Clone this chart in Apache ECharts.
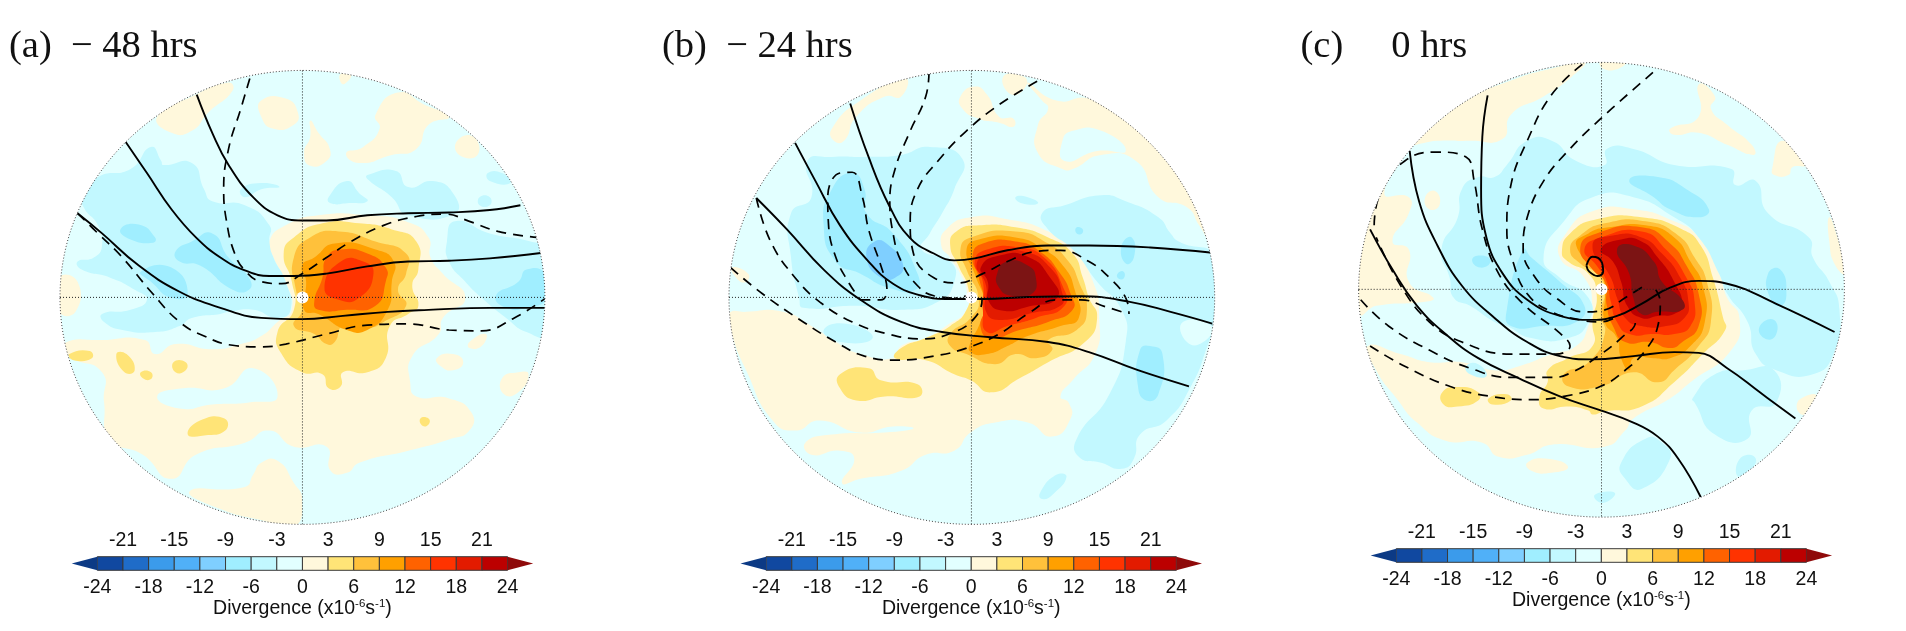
<!DOCTYPE html>
<html><head><meta charset="utf-8">
<style>html,body{margin:0;padding:0;background:#fff}#c{width:1906px;height:631px}</style>
<script src="https://cdn.jsdelivr.net/npm/echarts@6/dist/echarts.min.js"></script>
</head><body><div id="c"></div>
<script>
// colour scale
const levelEdges=[-24,-21,-18,-15,-12,-9,-6,-3,0,3,6,9,12,15,18,21,24];
const levelColors=['#1048A0','#1F6CC8','#3B9BEB','#50B0F8','#7FCFFF','#A0EEFF','#C2F8FF','#E2FFFF','#FFF8DC','#FFE477','#FFC13B','#FFA000','#FF6200','#FF3300','#E31B00','#BC0000'];
const underColor='#0C3A85', overColor='#8F0A0A', coreColor='#7C1414';
const lowerTicks=[-24,-18,-12,-6,0,6,12,18,24];
const upperTicks=[-21,-15,-9,-3,3,9,15,21];

// ---------- panel (a) regions: [level, outline]
const aCream1=[[160,852],[250,845],[355,845],[380,880],[430,855],[520,868],[590,855],[640,835],[680,800],[715,770],[700,700],[670,640],[660,600],[700,560],[780,535],[900,535],[1000,552],[1050,590],[1055,640],[1085,680],[1140,740],[1085,790],[1075,830],[1010,885],[1005,950],[1020,985],[1100,990],[1155,1025],[1150,1070],[1100,1092],[1000,1120],[880,1150],[850,1175],[810,1170],[800,1110],[720,1110],[660,1070],[600,1100],[480,1130],[420,1190],[350,1130],[270,1090],[255,1000],[250,925],[170,885]];
const aHole=[[385,985],[450,965],[550,965],[620,915],[680,985],[610,1000],[520,1005],[440,1015]];
const aCream2=[[385,290],[470,240],[560,205],[570,225],[510,280],[470,325],[420,330]];
const aCream3=[[640,250],[700,245],[730,280],[720,310],[670,320],[640,290]];
const aCream4=[[760,300],[780,330],[808,370],[800,400],[760,412],[745,380],[760,340]];
const aCream5=[[920,285],[975,230],[1040,260],[1100,290],[1050,310],[1020,370],[960,385],[880,405],[848,380],[890,365],[930,320]];
const aCream6=[[1120,350],[1160,340],[1170,385],[1125,385]];
const aCream7=[[835,183],[860,185],[845,208],[835,205]];
const aCream8=[[145,690],[190,700],[185,775],[145,775]];
const aCream9=[[465,1220],[600,1210],[620,1180],[640,1150],[680,1145],[720,1200],[740,1240],[720,1310],[650,1295],[540,1265]];
const aCream10=[[1230,940],[1270,925],[1295,930],[1270,975],[1235,980]];
const aCream11=[[1070,890],[1110,880],[1135,900],[1110,920],[1080,910]];
const aCream12=[[1150,850],[1190,830],[1180,860],[1150,865]];
const aBlue1=[[205,490],[240,440],[320,420],[370,365],[395,400],[400,410],[470,405],[500,470],[520,500],[600,510],[660,560],[660,600],[670,640],[700,700],[712,770],[680,790],[620,770],[560,775],[540,780],[470,790],[440,810],[380,825],[300,820],[255,800],[250,780],[320,770],[360,745],[330,720],[270,690],[200,670],[190,650],[230,640],[250,610],[240,560],[205,515]];
const aBlue2=[[1095,600],[1115,550],[1200,580],[1300,600],[1340,620],[1340,830],[1290,825],[1240,790],[1180,740],[1140,700],[1100,650]];
const aBlue3=[[805,490],[850,450],[880,480],[900,500],[850,505],[810,505]];
const aBlue4=[[900,435],[970,425],[1000,465],[1060,450],[1110,480],[1115,530],[1000,535],[960,490],[900,445]];
const aBlue5=[[1195,430],[1230,430],[1250,455],[1200,450]];
const aBlue6=[[1175,490],[1200,490],[1200,510],[1175,510]];
const aBlue7=[[590,470],[640,455],[685,465],[640,470],[600,490]];
const aSky1=[[295,570],[340,558],[380,590],[375,603],[320,595]];
const aSky2=[[430,625],[470,600],[520,580],[560,640],[610,690],[610,720],[570,720],[490,660],[440,650]];
const aSky3=[[345,675],[420,665],[460,730],[420,740],[370,700]];
const aSky4=[[1215,735],[1270,700],[1290,670],[1335,680],[1340,740],[1290,765],[1240,765]];
const aYel1=[[695,630],[720,590],[790,555],[880,555],[960,570],[1020,600],[1025,670],[1010,710],[1025,760],[1000,780],[955,810],[945,890],[900,925],[840,925],[835,960],[805,965],[790,930],[740,925],[690,880],[680,825],[720,770],[715,700]];
const aYel2=[[460,1080],[490,1045],[550,1040],[552,1070],[500,1082]];
const aYel3=[[170,880],[220,872],[225,890],[180,895]];
const aYel4=[[285,880],[310,880],[330,920],[305,925]];
const aYel5=[[425,900],[455,900],[455,920],[430,925]];
const aYel6=[[345,925],[370,925],[370,942],[350,940]];
const aYel7=[[1030,1040],[1050,1040],[1050,1055],[1035,1058]];
const aAmb=[[720,640],[760,590],[830,575],[920,600],[995,630],[995,680],[975,720],[995,760],[940,800],[900,815],[840,810],[820,850],[800,855],[770,830],[720,810],[740,770],[725,720]];
const aOra=[[770,640],[820,605],[920,620],[965,650],[960,700],[950,770],[900,820],[850,820],[780,780],[745,770],[750,700],[740,660]];
const aDeep=[[800,640],[835,620],[900,630],[945,665],[945,700],[920,760],[850,770],[780,770],[770,750],[790,690]];
const aRed=[[795,715],[835,650],[890,650],[915,680],[880,740],[830,745]];
const panelARegions=[[8,aCream1],[7,aHole],[8,aCream2],[8,aCream3],[8,aCream4],[8,aCream5],[8,aCream6],[8,aCream7],[8,aCream8],[8,aCream9],[8,aCream10],[8,aCream11],[8,aCream12],
[6,aBlue1],[6,aBlue2],[6,aBlue3],[6,aBlue4],[6,aBlue5],[6,aBlue6],[6,aBlue7],[5,aSky1],[5,aSky2],[5,aSky3],[5,aSky4],
[9,aYel1],[9,aYel2],[9,aYel3],[9,aYel4],[9,aYel5],[9,aYel6],[9,aYel7],[10,aAmb],[11,aOra],[12,aDeep],[13,aRed]];
const aSolid1=[[482,235],[520,330],[560,410],[620,490],[680,535],[740,548],[800,548],[900,535],[1000,530],[1100,528],[1200,522],[1275,510]];
const aSolid2=[[308,353],[360,430],[420,520],[480,590],[540,640],[600,672],[660,686],[720,686],[800,680],[900,662],[1000,650],[1100,648],[1200,642],[1330,628]];
const aSolid3=[[190,530],[250,580],[340,660],[440,725],[540,765],[640,790],[740,793],[840,785],[950,775],[1050,770],[1200,765],[1335,765]];
const aDash1=[[612,195],[590,270],[560,370],[548,470],[555,550],[575,630],[600,672],[640,700],[690,705],[740,680],[800,640],[860,600],[940,560],[1020,538],[1090,532],[1150,550],[1220,575],[1315,590]];
const aDash2=[[190,530],[240,580],[300,640],[370,725],[440,800],[500,835],[570,858],[640,862],[700,855],[800,830],[900,808],[1000,805],[1100,820],[1180,822],[1260,790],[1335,742]];

// ---------- panel (b)
const bCream1=[[218,780],[260,775],[350,775],[420,810],[480,850],[540,880],[620,890],[640,860],[700,840],[750,810],[800,770],[800,720],[790,690],[760,640],[738,610],[750,570],[810,540],[900,545],[1000,575],[1060,620],[1110,700],[1125,790],[1115,880],[1060,945],[1030,985],[1050,1000],[1055,1040],[1010,1085],[950,1050],[870,1050],[810,1075],[770,1120],[700,1130],[640,1170],[540,1190],[495,1200],[525,1140],[490,1120],[420,1130],[405,1100],[470,1080],[600,1075],[670,1065],[620,1060],[540,1075],[440,1045],[380,1070],[325,1045],[260,920],[225,830]];
const bCream2=[[470,320],[540,250],[650,195],[640,240],[600,240],[530,290],[500,350],[475,350]];
const bCream3=[[785,240],[820,215],[850,235],[880,290],[915,295],[915,315],[880,305],[830,295],[790,270]];
const bCream4=[[890,190],[940,190],[945,215],[910,235]];
const bCream5=[[950,205],[1020,250],[1100,245],[1180,290],[1290,400],[1360,500],[1395,600],[1370,560],[1340,515],[1270,490],[1215,400],[1130,385],[1060,420],[1035,420],[975,380],[975,310],[1000,270],[985,250]];
const bHole=[[1035,350],[1060,325],[1130,325],[1190,375],[1120,375],[1040,400]];
const bCream6=[[225,665],[265,680],[260,700],[240,695]];
const bBlue1=[[370,530],[420,490],[410,400],[470,390],[560,390],[640,385],[710,365],[790,395],[770,470],[740,530],[710,580],[690,620],[760,650],[770,700],[730,750],[640,770],[530,760],[400,765],[390,740],[370,640]];
const bBlue2=[[450,820],[510,805],[570,840],[490,850]];
const bBlue3=[[985,530],[1040,510],[1130,485],[1190,500],[1270,540],[1300,580],[1320,600],[1410,640],[1410,790],[1390,860],[1350,960],[1290,1045],[1225,1080],[1210,1140],[1180,1165],[1130,1150],[1075,1135],[1070,1090],[1150,980],[1190,850],[1180,770],[1120,700],[1060,620],[1000,570]];
const bHole2=[[1330,800],[1400,810],[1380,850],[1340,850]];
const bBlue4=[[980,1225],[1020,1180],[1045,1185],[1010,1230],[985,1240]];
const bBlue5=[[920,490],[950,490],[975,505],[935,505]];
const bSky1=[[450,560],[470,470],[520,430],[550,470],[555,530],[620,580],[680,680],[675,720],[610,715],[540,680],[480,650]];
const bSky2=[[1225,870],[1250,860],[1280,880],[1270,980],[1240,995],[1220,960]];
const bSky3=[[1180,610],[1205,590],[1210,640],[1190,655]];
const bSky4=[[1070,565],[1085,570],[1080,582],[1068,578]];
const bSky5=[[1170,680],[1185,675],[1185,692],[1172,692]];
const bAzure=[[555,640],[575,600],[610,610],[645,660],[625,690],[590,690]];
const bYel1=[[760,610],[775,575],[830,560],[920,565],[1000,590],[1060,630],[1085,690],[1100,740],[1120,790],[1090,850],[1000,900],[930,940],[860,975],[810,945],[770,930],[700,895],[625,890],[640,865],[700,840],[760,810],[800,770],[805,720],[780,660]];
const bYel2=[[490,930],[560,915],[590,945],[680,955],[685,985],[600,985],[530,995],[490,965]];
const bAmb=[[785,620],[810,590],[920,575],[1000,605],[1050,650],[1075,700],[1095,770],[1070,820],[1000,845],[1010,870],[970,890],[920,880],[870,905],[800,880],[760,860],[760,830],[810,790],[830,745],[800,670]];
const bOra=[[800,620],[830,595],[920,590],[990,620],[1040,665],[1065,720],[1075,790],[1030,810],[950,835],[900,860],[850,880],[810,875],[810,850],[830,810],[845,760],[820,680]];
const bDeep=[[815,635],[840,605],[920,600],[980,625],[1030,680],[1055,730],[1060,770],[1000,800],[930,820],[860,840],[835,815],[845,760],[830,690]];
const bRed=[[820,650],[850,620],[930,615],[990,640],[1035,710],[1040,760],[970,790],[900,810],[850,825],[840,770],[840,700]];
const bCrim=[[825,655],[865,630],[940,625],[1005,665],[1035,730],[1030,760],[960,778],[880,795],[848,775],[848,710]];
const bDark=[[835,665],[880,635],[950,638],[1005,690],[1022,740],[950,762],[890,772],[855,750],[852,700]];
const bCore=[[875,680],[900,650],[950,660],[970,690],[960,730],[910,735],[880,715]];
const panelBRegions=[[8,bCream1],[8,bCream2],[8,bCream3],[8,bCream4],[8,bCream5],[7,bHole],[8,bCream6],
[6,bBlue1],[6,bBlue2],[6,bBlue3],[7,bHole2],[6,bBlue4],[6,bBlue5],[5,bSky1],[5,bSky2],[5,bSky3],[5,bSky4],[5,bSky5],[4,bAzure],
[9,bYel1],[9,bYel2],[10,bAmb],[11,bOra],[12,bDeep],[13,bRed],[14,bCrim],[15,bDark],[17,bCore]];
const bSolid1=[[515,257],[560,390],[610,510],[660,590],[720,630],[770,647],[820,642],[900,622],[1000,610],[1100,610],[1250,615],[1402,628]];
const bSolid2=[[380,355],[430,450],[490,560],[560,650],[620,705],[690,735],[760,743],[840,743],[950,738],[1080,736],[1200,750],[1300,775],[1402,804]];
const bSolid3=[[285,492],[360,570],[450,670],[540,745],[640,800],[740,825],[860,838],[1000,850],[1100,875],[1220,920],[1345,960]];
const bDash1=[[708,180],[700,240],[660,330],[625,420],[612,500],[620,580],[640,650],[680,710],[720,735],[790,742]];
const bDash2=[[973,202],[880,260],[800,325],[730,400],[680,470],[662,550],[670,630],[720,690],[780,703],[840,680],[900,650],[970,625],[1030,622],[1100,650],[1150,690],[1190,740],[1198,780]];
const bDash3=[[540,745],[590,745],[605,720],[590,660],[560,570],[545,490],[520,428],[490,430],[460,490],[462,560],[480,640],[510,700],[540,745]];
const bDash4=[[285,492],[320,600],[380,690],[440,750],[520,800],[600,828],[690,842],[770,825],[820,790],[838,745],[810,735],[770,742]];
const bDash5=[[222,665],[300,730],[400,800],[480,850],[550,885],[630,895],[720,885],[800,865],[880,830],[950,780],[1020,745],[1080,745],[1140,762],[1195,780]];

// ---------- panel (c)
const cCream1=[[780,155],[700,170],[600,200],[500,245],[400,320],[355,358],[420,350],[500,350],[580,345],[600,285],[680,240],[750,190]];
const cCream2=[[355,358],[280,470],[240,560],[225,650],[230,780],[270,760],[390,750],[410,740],[350,700],[350,620],[310,600],[350,530],[350,490],[290,480]];
const cCream3=[[390,490],[415,475],[425,510],[400,520]];
const cCream4=[[250,860],[330,880],[400,900],[480,900],[560,920],[620,910],[700,880],[760,860],[790,810],[800,760],[780,690],[720,640],[735,580],[800,525],[900,520],[1000,550],[1060,590],[1110,680],[1130,740],[1160,790],[1140,870],[1040,950],[990,990],[900,1040],[880,1070],[830,1110],[700,1105],[640,1130],[570,1135],[530,1100],[440,1095],[370,1050],[320,990],[270,920]];
const cCream5=[[640,1150],[690,1140],[740,1160],[700,1175],[650,1170]];
const cCream6=[[990,320],[1060,290],[1060,210],[1100,240],[1090,270],[1130,310],[1190,360],[1195,385],[1130,360],[1060,330],[1000,335]];
const cCream7=[[1240,420],[1265,350],[1320,410],[1290,415],[1280,435],[1245,435]];
const cCream8=[[1380,540],[1400,590],[1420,680],[1395,660],[1380,600]];
const cCream9=[[1300,1010],[1320,985],[1350,985],[1320,1030]];
const cCream10=[[820,155],[880,155],[860,172],[825,170]];
const cBlue1=[[480,470],[520,440],[560,440],[590,410],[640,350],[700,350],[760,400],[830,410],[835,370],[900,370],[1000,410],[1140,420],[1150,460],[1200,450],[1230,530],[1330,590],[1340,640],[1380,700],[1405,770],[1390,880],[1340,930],[1250,920],[1200,880],[1180,800],[1130,730],[1110,680],[1060,590],[1000,540],[900,490],[800,490],[730,550],[680,640],[720,690],[790,740],[790,800],[740,840],[650,840],[590,810],[560,800],[500,760],[460,740],[450,690],[430,620],[470,540]];
const cBlue2=[[1045,990],[1100,930],[1170,920],[1245,920],[1250,1000],[1190,1020],[1180,1090],[1100,1080],[1050,1000]];
const cBlue3=[[870,1150],[930,1090],[970,1100],[990,1140],[920,1215],[880,1190]];
const cBlue4=[[1155,1150],[1185,1130],[1200,1150],[1160,1185]];
const cBlue5=[[805,1230],[855,1225],[825,1250]];
const cBlue6=[[490,910],[520,905],[540,935],[500,930]];
const cSky1=[[890,448],[960,440],[1030,470],[1085,520],[1060,540],[990,520],[950,490]];
const cSky2=[[590,770],[630,620],[650,640],[720,700],[780,760],[760,800],[680,810],[600,810]];
const cSky3=[[505,645],[530,635],[550,650],[525,665]];
const cSky4=[[1230,680],[1260,670],[1275,730],[1260,760],[1235,740]];
const cSky5=[[1210,810],[1245,795],[1248,835],[1220,840]];
const cYel1=[[725,625],[745,580],[810,545],[920,540],[1020,570],[1065,610],[1095,690],[1120,790],[1125,820],[1070,880],[1000,950],[920,1010],[830,1022],[800,1030],[790,1020],[740,1010],[680,1015],[670,985],[690,950],[690,920],[740,890],[800,860],[800,800],[810,730],[790,680],[740,650]];
const cYel2=[[432,975],[470,962],[520,975],[520,995],[470,1010],[435,1005]];
const cYel3=[[545,990],[590,980],[600,995],[555,1005]];
const cAmb=[[745,620],[770,585],[830,555],[930,550],[1010,585],[1050,640],[1080,700],[1090,800],[1060,860],[1000,920],[960,950],[900,925],[820,960],[740,960],[730,930],[790,900],[830,830],[820,780],[830,720],[810,680],[770,655]];
const cOra=[[760,610],[790,580],[840,565],[930,560],[1000,590],[1040,650],[1070,710],[1075,800],[1040,860],[990,890],[950,890],[900,890],[890,920],[870,890],[860,840],[830,800],[830,730],[820,680]];
const cDeep=[[770,615],[810,580],[920,565],[990,605],[1030,660],[1060,730],[1060,810],[1020,850],[990,865],[940,850],[880,850],[850,810],[835,760],[830,700],[800,670]];
const cRed=[[780,620],[820,590],[920,575],[980,620],[1030,690],[1050,750],[1040,810],[1000,830],[950,830],[890,830],[860,800],[845,750],[835,700],[810,660]];
const cCrim=[[800,610],[850,585],[920,590],[970,630],[1015,690],[1035,750],[1025,790],[980,810],[920,810],[880,790],[860,740],[845,690]];
const cDark=[[820,620],[870,595],[920,600],[960,640],[1000,700],[1020,760],[1000,780],[960,785],[920,790],[885,760],[870,700],[850,650]];
const cCore=[[860,620],[900,610],[950,650],[970,700],[1020,745],[1020,770],[960,775],[920,780],[900,740],[890,680]];
const panelCRegions=[[8,cCream1],[8,cCream2],[8,cCream3],[8,cCream4],[8,cCream5],[8,cCream6],[8,cCream7],[8,cCream8],[8,cCream9],[8,cCream10],
[6,cBlue1],[6,cBlue2],[6,cBlue3],[6,cBlue4],[6,cBlue5],[6,cBlue6],[5,cSky1],[5,cSky2],[5,cSky3],[5,cSky4],[5,cSky5],
[9,cYel1],[9,cYel2],[9,cYel3],[10,cAmb],[11,cOra],[12,cDeep],[13,cRed],[14,cCrim],[15,cDark],[17,cCore]];
const cSolid1=[[543,237],[530,340],[527,470],[540,590],[580,680],[640,745],[720,785],[800,795],[860,785],[920,755],[990,715],[1060,698],[1130,705],[1250,755],[1393,825]];
const cSolid2=[[352,375],[375,500],[420,610],[480,710],[560,790],[640,850],[720,885],[800,893],[900,885],[1000,875],[1060,877],[1130,915],[1210,975],[1297,1040]];
const cSolid3=[[255,570],[310,670],[370,760],[440,830],[520,890],[620,940],[720,985],[820,1020],[900,1050],[960,1085],[1010,1140],[1065,1235]];
const cLoop=[[785,660],[800,638],[822,650],[826,675],[812,686],[792,675],[785,660]];
const cDash1=[[948,180],[820,295],[740,375],[680,450],[640,540],[630,620],[660,690],[710,740],[780,775],[830,770],[880,740],[930,708]];
const cDash2=[[775,160],[700,235],[640,350],[600,460],[590,570],[605,650],[640,730],[700,775],[770,795],[820,800],[867,782]];
const cDash3=[[265,560],[280,480],[340,400],[420,378],[490,390],[510,450],[530,570],[570,680],[630,755],[720,828],[745,860],[710,880],[600,880],[480,850],[400,800],[330,710],[270,590]];
const cDash4=[[232,745],[300,810],[400,870],[500,915],[600,938],[700,938],[750,925],[818,882],[870,840],[905,800],[905,785]];
const cDash5=[[255,860],[340,910],[450,960],[550,985],[650,993],[730,985],[820,960],[880,920],[930,870],[960,810],[966,750],[955,720]];

const panels=[
 {off:0,x0:147,x1:1335,y0:175,y1:1303,cx:741,cy:739,regions:panelARegions,solid:[aSolid1,aSolid2,aSolid3],dash:[aDash1,aDash2],title:'(a)\u00a0\u00a0\u2212 48 hrs',tx:9,barLeft:71.7,barTop:556.7},
 {off:640,x0:218,x1:1408,y0:175,y1:1303,cx:812,cy:739,regions:panelBRegions,solid:[bSolid1,bSolid2,bSolid3],dash:[bDash1,bDash2,bDash3,bDash4,bDash5],title:'(b)\u00a0\u00a0\u2212 24 hrs',tx:662,barLeft:740.5,barTop:556.7},
 {off:1266,x0:227,x1:1417,y0:155,y1:1285,cx:822,cy:719,regions:panelCRegions,solid:[cSolid1,cSolid2,cSolid3,cLoop],dash:[cDash1,cDash2,cDash3,cDash4,cDash5],title:'(c)\u00a0\u00a0\u00a0\u00a0\u00a00 hrs',tx:1300.5,barLeft:1370.6,barTop:548.7}
];
const SX=2.45, SY=2.485, FONT='"Liberation Sans",Arial,sans-serif';
const grid=[],xAxis=[],yAxis=[],series=[],title=[];
panels.forEach((p,i)=>{
  grid.push({left:p.off+p.x0/SX,top:p.y0/SY,width:(p.x1-p.x0)/SX,height:(p.y1-p.y0)/SY,containLabel:false});
  xAxis.push({type:'value',gridIndex:i,min:p.x0,max:p.x1,show:false});
  yAxis.push({type:'value',gridIndex:i,min:p.y0,max:p.y1,inverse:true,show:false});
});
panels.forEach((p,i)=>{
  const g=panels.length+i;
  grid.push({left:p.barLeft,top:p.barTop,width:461.5,height:13.6});
  const ax=xAxis.length;
  xAxis.push({type:'value',gridIndex:g,z:20,min:-27,max:27,position:'bottom',axisLine:{show:false},axisTick:{show:false},splitLine:{show:false},
    axisLabel:{customValues:lowerTicks,margin:7,fontSize:19.5,fontFamily:FONT,color:'#111'},
    name:'Divergence (x10{s|-6}s{s|-1})',nameLocation:'middle',nameGap:26,
    nameTextStyle:{fontSize:19.5,fontFamily:FONT,color:'#111',rich:{s:{fontSize:11.5,fontFamily:FONT,color:'#111',verticalAlign:'top',padding:[0,0,8,0]}}}});
  xAxis.push({type:'value',gridIndex:g,z:20,min:-27,max:27,position:'top',axisLine:{show:false},axisTick:{show:false},splitLine:{show:false},
    axisLabel:{customValues:upperTicks,margin:6,fontSize:19.5,fontFamily:FONT,color:'#111'}});
  const ay=yAxis.length;
  yAxis.push({type:'value',gridIndex:g,min:0,max:1,show:false});
  series.push({type:'custom',name:'colorbar'+i,xAxisIndex:ax,yAxisIndex:ay,clip:false,z:5,silent:true,
    data:levelColors.map((c,k)=>[levelEdges[k],0,levelEdges[k+1],1]),
    renderItem(params,api){
      const a=api.coord([api.value(0),1]),b=api.coord([api.value(2),0]);
      return {type:'rect',shape:{x:a[0],y:a[1],width:b[0]-a[0],height:b[1]-a[1]},style:{fill:levelColors[params.dataIndex],stroke:'#3a3a3a',lineWidth:1}};
    }});
  series.push({type:'custom',name:'colorbarEnds'+i,xAxisIndex:ax,yAxisIndex:ay,clip:false,z:5,silent:true,
    data:[[-24,-27,underColor],[24,27,overColor]],
    renderItem(params,api){
      const a=api.coord([api.value(0),1]),b=api.coord([api.value(0),0]),t=api.coord([api.value(1),0.5]);
      return {type:'polygon',shape:{points:[a,b,t]},style:{fill:params.dataIndex?overColor:underColor}};
    }});
  title.push({text:p.title,left:p.tx,top:27,padding:0,textStyle:{fontFamily:'"Liberation Serif","Times New Roman",serif',fontSize:38.5,fontWeight:'normal',color:'#111'}});

  const common={xAxisIndex:i,yAxisIndex:i,silent:true};
  const rx=(p.x1-p.x0)/2, ry=(p.y1-p.y0)/2, mx=(p.x0+p.x1)/2, my=(p.y0+p.y1)/2;
  const ell=(api,grow,style)=>{const c=api.coord([mx,my]),e=api.coord([mx+rx,my+ry]);
    return {type:'ellipse',shape:{cx:c[0],cy:c[1],rx:e[0]-c[0]+grow,ry:e[1]-c[1]+grow},style};};
  // base disc
  series.push({...common,type:'custom',name:'base'+i,z:1,clip:false,data:[[mx,my]],
    renderItem:(pa,api)=>ell(api,0,{fill:levelColors[7]})});
  // filled contours
  series.push({...common,type:'custom',name:'shade'+i,z:2,clip:false,
    data:p.regions.map(r=>[mx,my,r[0]]),
    renderItem(pa,api){
      const r=p.regions[pa.dataIndex];
      const fill=r[0]===17?coreColor:levelColors[r[0]];
      return {type:'polygon',shape:{points:r[1].map(q=>api.coord(q)),smooth:0.55},style:{fill}};
    }});
  // contour lines
  p.solid.forEach((d,k)=>series.push({...common,type:'line',name:'solid'+i+k,z:3,data:d,smooth:0.45,showSymbol:false,clip:false,lineStyle:{color:'#000',width:1.9}}));
  p.dash.forEach((d,k)=>series.push({...common,type:'line',name:'dash'+i+k,z:3,data:d,smooth:0.45,showSymbol:false,clip:false,lineStyle:{color:'#000',width:1.7,type:[10,7]}}));
  // dotted cross
  [[[p.cx,p.y0],[p.cx,p.y1]],[[p.x0,p.cy],[p.x1,p.cy]]].forEach((d,k)=>series.push({...common,type:'line',name:'cross'+i+k,z:4,data:d,showSymbol:false,lineStyle:{color:'#222',width:1,type:[1,2]}}));
  // mask, outline and centre mark
  series.push({...common,type:'custom',name:'frame'+i,z:4,clip:false,data:[[mx,my]],
    renderItem(pa,api){
      const c=api.coord([p.cx,p.cy]);
      return {type:'group',children:[
        ell(api,8,{fill:null,stroke:'#fff',lineWidth:16}),
        ell(api,0,{fill:null,stroke:'#444',lineWidth:1,lineDash:[1,2]}),
        {type:'circle',shape:{cx:c[0],cy:c[1],r:6},style:{fill:'#fff'}}
      ]};
    }});
});
const chart=echarts.init(document.getElementById('c'),null,{renderer:'canvas'});
chart.setOption({animation:false,backgroundColor:'#fff',title,grid,xAxis,yAxis,series});
</script></body></html>
